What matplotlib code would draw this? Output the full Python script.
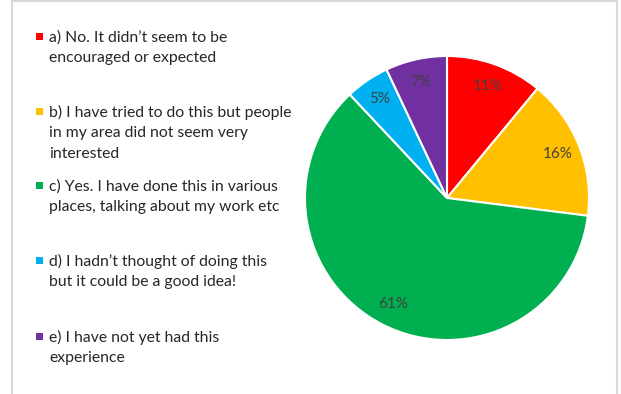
import matplotlib
matplotlib.use("Agg")
import numpy as np
import matplotlib.pyplot as plt
from matplotlib.patches import Rectangle
from matplotlib.lines import Line2D

# survey responses, in percent
answers = [
    "a) No. It didn\u2019t seem to be\nencouraged or expected",
    "b) I have tried to do this but people\nin my area did not seem very\ninterested",
    "c) Yes. I have done this in various\nplaces, talking about my work etc",
    "d) I hadn\u2019t thought of doing this\nbut it could be a good idea!",
    "e) I have not yet had this\nexperience",
]
shares = [11, 16, 61, 5, 7]
colors = ["#ff0000", "#ffc000", "#00b050", "#00b0f0", "#7030a0"]

W, H = 621, 394
fig = plt.figure(figsize=(W / 100, H / 100), dpi=100)
fig.patch.set_facecolor("white")
plt.rcParams["font.family"] = ["Lato", "DejaVu Sans"]

# frame lines around the chart area
border = "#d9d9d9"
fig.add_artist(Line2D([12 / W, 12 / W], [0, 1 - 1 / H], color=border, lw=1.5))
fig.add_artist(Line2D([12 / W, 617 / W], [1 - 1 / H, 1 - 1 / H], color=border, lw=1.5))
fig.add_artist(Line2D([617 / W, 617 / W], [0, 1 - 1 / H], color=border, lw=1.5))

# pie
cx, cy, r = 447, 198, 142
ax = fig.add_axes([(cx - r) / W, (H - cy - r) / H, 2 * r / W, 2 * r / H])
wedges, texts = ax.pie(shares, colors=colors, startangle=90, counterclock=False,
                       wedgeprops=dict(edgecolor="white", linewidth=1.5))
for w, v in zip(wedges, shares):
    ang = np.deg2rad((w.theta1 + w.theta2) / 2)
    ax.text(0.84 * np.cos(ang), 0.84 * np.sin(ang), "%d%%" % v,
            ha="center", va="center", fontsize=11, color="#404040")
ax.set_xlim(-1, 1)
ax.set_ylim(-1, 1)
ax.set_aspect("equal")
ax.axis("off")

# legend entries, drawn by hand
tops = [37, 112, 186, 261, 337]
for label, col, y in zip(answers, colors, tops):
    fig.add_artist(Rectangle((36 / W, 1 - (y + 3) / H), 7 / W, 7 / H,
                             facecolor=col, edgecolor="none"))
    fig.text(49 / W, 1 - (y - 7) / H, label, ha="left", va="top",
             fontsize=11.3, color="#262626", linespacing=1.58)

fig.savefig("out.png", dpi=100)
